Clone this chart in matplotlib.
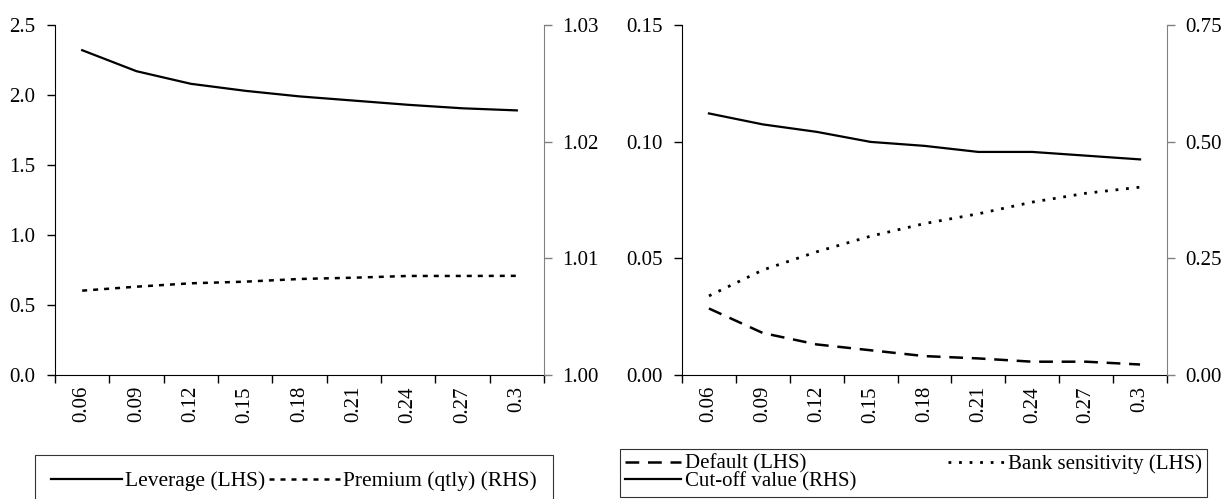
import matplotlib
matplotlib.use("Agg")
import matplotlib.pyplot as plt
import numpy as np

plt.rcParams['font.family'] = ['Liberation Serif', 'DejaVu Serif']

categories = ["0.06", "0.09", "0.12", "0.15", "0.18", "0.21", "0.24", "0.27", "0.3"]
leverage = [2.32, 2.17, 2.08, 2.03, 1.99, 1.96, 1.93, 1.905, 1.89]
premium = [1.00723, 1.00757, 1.00786, 1.0080, 1.00823, 1.00834, 1.00849, 1.00849, 1.0085]
default = [0.0285, 0.018, 0.0131, 0.0106, 0.0081, 0.0071, 0.0057, 0.0057, 0.0045]
bank_sens = [0.0339, 0.045, 0.0528, 0.0595, 0.0649, 0.0691, 0.0741, 0.0779, 0.0805]
cutoff = [0.5605, 0.537, 0.521, 0.4995, 0.491, 0.478, 0.478, 0.470, 0.462]

FS = 15
fig = plt.figure(figsize=(12.32, 4.99), dpi=100)
W, H = 1232, 499

def make_axes(x0, x1, y0, y1):
    return fig.add_axes([x0 / W, (H - y1) / H, (x1 - x0) / W, (y1 - y0) / H])

def style_axes(ax, ax2):
    n = len(categories)
    x = np.arange(n)
    ax.set_xlim(-0.5, n - 0.5)
    ax.set_xticks(x)
    ax.set_xticklabels(categories, rotation=90, fontsize=FS)
    ax.set_xticks(np.arange(n + 1) - 0.5, minor=True)
    ax.tick_params(axis='x', which='major', length=0, pad=8)
    ax.tick_params(axis='x', which='minor', length=6, width=1, direction='out')
    ax.tick_params(axis='y', length=6, width=1, direction='out', labelsize=FS, pad=8)
    ax2.tick_params(axis='y', length=6, width=1, direction='out', labelsize=FS, pad=7)
    for a in (ax, ax2):
        a.spines['top'].set_visible(False)
    ax2.spines['left'].set_visible(False)
    ax2.spines['bottom'].set_visible(False)
    ax.spines['right'].set_visible(False)
    ax2.spines['right'].set_color('#808080')
    ax2.tick_params(axis='y', color='#808080')
    ax.spines['left'].set_color('black')
    ax.spines['bottom'].set_color('black')
    return x

# Left panel
axL = make_axes(55, 544, 25, 375)
axL2 = axL.twinx()
x = style_axes(axL, axL2)
l1, = axL.plot(x, leverage, color='black', lw=1.6, label='Leverage (LHS)')
l2, = axL2.plot(x, premium, color='black', lw=1.8, linestyle=(0, (2.0, 2.4)), label='Premium (qtly) (RHS)')
axL.set_ylim(0, 2.5)
axL.set_yticks([0, 0.5, 1.0, 1.5, 2.0, 2.5])
axL.set_yticklabels(["0.0", "0.5", "1.0", "1.5", "2.0", "2.5"])
axL2.set_ylim(1.00, 1.03)
axL2.set_yticks([1.00, 1.01, 1.02, 1.03])
axL2.set_yticklabels(["1.00", "1.01", "1.02", "1.03"])

# Right panel
axR = make_axes(682, 1167, 25, 375)
axR2 = axR.twinx()
x = style_axes(axR, axR2)
r1, = axR.plot(x, default, color='black', lw=1.8, linestyle=(0, (5.5, 3.5)), label='Default (LHS)')
r2, = axR.plot(x, bank_sens, color='black', lw=2.0, linestyle=(0, (1.0, 2.8)), label='Bank sensitivity (LHS)')
r3, = axR2.plot(x, cutoff, color='black', lw=1.6, label='Cut-off value (RHS)')
axR.set_ylim(0, 0.15)
axR.set_yticks([0, 0.05, 0.10, 0.15])
axR.set_yticklabels(["0.00", "0.05", "0.10", "0.15"])
axR2.set_ylim(0, 0.75)
axR2.set_yticks([0, 0.25, 0.5, 0.75])
axR2.set_yticklabels(["0.00", "0.25", "0.50", "0.75"])

# Legends
legL = fig.legend(handles=[l1, l2], loc='upper left', ncol=2,
                  bbox_to_anchor=(35 / W, (H - 455) / H, (553 - 35) / W, 0.0),
                  mode='expand', frameon=True, fancybox=False, edgecolor='black',
                  fontsize=15.5, handlelength=3.3, handletextpad=0.15, columnspacing=0.8,
                  borderpad=0.75, borderaxespad=0)
legL.get_frame().set_linewidth(0.8)

legR = fig.legend(handles=[r1, r3, r2], loc='upper left', ncol=2,
                  bbox_to_anchor=(620 / W, (H - 449) / H, (1207 - 620) / W, 0.0),
                  mode='expand', frameon=True, fancybox=False, edgecolor='black',
                  fontsize=15, handlelength=2.7, handletextpad=0.15, columnspacing=0.3,
                  borderpad=0.25, labelspacing=-0.1, borderaxespad=0)
legR.get_frame().set_linewidth(0.8)

fig.savefig("out.png", dpi=100)
